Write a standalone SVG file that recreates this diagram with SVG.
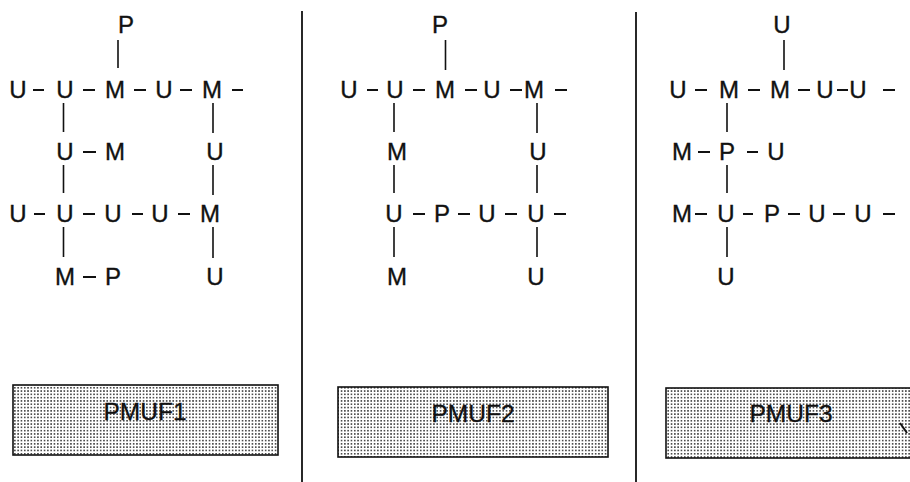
<svg xmlns="http://www.w3.org/2000/svg" width="910" height="482" viewBox="0 0 910 482">
  <defs>
    <pattern id="stipple" patternUnits="userSpaceOnUse" width="3.3" height="3.3">
      <rect width="3.3" height="3.3" fill="#ffffff"/>
      <rect x="0.9" y="0.9" width="1.5" height="1.5" fill="#2a2a2a"/>
    </pattern>
    <style>
      .a { font-family: "Liberation Sans", Arial, sans-serif; font-size: 24px; text-anchor: middle; fill: #111; stroke: #111; stroke-width: 0.35; }
      .lbl { font-family: "Liberation Sans", Arial, sans-serif; font-size: 24.5px; text-anchor: middle; fill: #111; stroke: #111; stroke-width: 0.3; }
      .bond { stroke: #111; stroke-width: 1.6; fill: none; }
      .dash { stroke: #111; stroke-width: 1.9; fill: none; }
      .rule { stroke: #111; stroke-width: 1.8; fill: none; }
      .box { fill: url(#stipple); stroke: #111; stroke-width: 1.6; }
    </style>
  </defs>
  <rect width="910" height="482" fill="#ffffff"/>

  <!-- panel dividers -->
  <g id="dividers">
    <line class="rule" x1="302" y1="11" x2="302" y2="482"/>
    <line class="rule" x1="636" y1="12" x2="636" y2="482"/>
  </g>

  <!-- bonds -->
  <g id="connectors">
    <!-- PMUF1 -->
    <path class="bond" d="M118 40V68 M63.5 103V132 M213 103V133 M63.5 165V193 M213 165V195 M63.5 227V257 M213 227V258"/>
    <path class="dash" d="M33 90H44 M83 90H95 M134 90H146 M180 90H192 M232 90H243
                          M83 152H96
                          M34 214H45 M83 214H95 M132 214H143 M178 214H190
                          M83 277H96"/>
    <!-- PMUF2 -->
    <path class="bond" d="M445.5 40V70 M394 103V132 M537 103V133 M394 165V193 M537 165V193 M394 227V257 M537 227V257"/>
    <path class="dash" d="M367 90H378 M413 90H425 M465 90H477 M510 90H522 M555 90H567
                          M413 214H425 M458 214H470 M505 214H517 M554 214H566"/>
    <!-- PMUF3 -->
    <path class="bond" d="M784 40V70 M727 103V132 M727 165V193 M727 227V257"/>
    <path class="dash" d="M695 90H707 M748 90H760 M798 90H810 M837 90H848 M883 90H895
                          M698 152H710 M747 152H758
                          M695 214H707 M743 214H753 M788 214H800 M833 214H845 M883 214H895"/>
  </g>

  <!-- PMUF1 structure -->
  <g id="pmuf1-atoms">
    <g id="n1-p-top"><text class="a" x="126" y="33">P</text></g>
    <g id="n1-r1-u1"><text class="a" x="18" y="98">U</text></g>
    <g id="n1-r1-u2"><text class="a" x="65" y="98">U</text></g>
    <g id="n1-r1-m1"><text class="a" x="115" y="98">M</text></g>
    <g id="n1-r1-u3"><text class="a" x="164" y="98">U</text></g>
    <g id="n1-r1-m2"><text class="a" x="212" y="98">M</text></g>
    <g id="n1-r2-u1"><text class="a" x="65" y="160">U</text></g>
    <g id="n1-r2-m1"><text class="a" x="115" y="160">M</text></g>
    <g id="n1-r2-u2"><text class="a" x="215" y="160">U</text></g>
    <g id="n1-r3-u1"><text class="a" x="18" y="222">U</text></g>
    <g id="n1-r3-u2"><text class="a" x="65" y="222">U</text></g>
    <g id="n1-r3-u3"><text class="a" x="113" y="222">U</text></g>
    <g id="n1-r3-u4"><text class="a" x="160" y="222">U</text></g>
    <g id="n1-r3-m1"><text class="a" x="210" y="222">M</text></g>
    <g id="n1-r4-m1"><text class="a" x="65" y="285">M</text></g>
    <g id="n1-r4-p1"><text class="a" x="113" y="285">P</text></g>
    <g id="n1-r4-u1"><text class="a" x="215" y="285">U</text></g>
  </g>

  <!-- PMUF2 structure -->
  <g id="pmuf2-atoms">
    <g id="n2-p-top"><text class="a" x="440" y="33">P</text></g>
    <g id="n2-r1-u1"><text class="a" x="349" y="98">U</text></g>
    <g id="n2-r1-u2"><text class="a" x="395" y="98">U</text></g>
    <g id="n2-r1-m1"><text class="a" x="445" y="98">M</text></g>
    <g id="n2-r1-u3"><text class="a" x="492" y="98">U</text></g>
    <g id="n2-r1-m2"><text class="a" x="534" y="98">M</text></g>
    <g id="n2-r2-m1"><text class="a" x="397" y="160">M</text></g>
    <g id="n2-r2-u1"><text class="a" x="538" y="160">U</text></g>
    <g id="n2-r3-u1"><text class="a" x="394" y="222">U</text></g>
    <g id="n2-r3-p1"><text class="a" x="442" y="222">P</text></g>
    <g id="n2-r3-u2"><text class="a" x="487" y="222">U</text></g>
    <g id="n2-r3-u3"><text class="a" x="536" y="222">U</text></g>
    <g id="n2-r4-m1"><text class="a" x="397" y="285">M</text></g>
    <g id="n2-r4-u1"><text class="a" x="536" y="285">U</text></g>
  </g>

  <!-- PMUF3 structure -->
  <g id="pmuf3-atoms">
    <g id="n3-u-top"><text class="a" x="782" y="33">U</text></g>
    <g id="n3-r1-u1"><text class="a" x="678" y="98">U</text></g>
    <g id="n3-r1-m1"><text class="a" x="729" y="98">M</text></g>
    <g id="n3-r1-m2"><text class="a" x="780" y="98">M</text></g>
    <g id="n3-r1-u2"><text class="a" x="825" y="98">U</text></g>
    <g id="n3-r1-u3"><text class="a" x="858" y="98">U</text></g>
    <g id="n3-r2-m1"><text class="a" x="682" y="160">M</text></g>
    <g id="n3-r2-p1"><text class="a" x="727" y="160">P</text></g>
    <g id="n3-r2-u1"><text class="a" x="776" y="160">U</text></g>
    <g id="n3-r3-m1"><text class="a" x="682" y="222">M</text></g>
    <g id="n3-r3-u1"><text class="a" x="726" y="222">U</text></g>
    <g id="n3-r3-p1"><text class="a" x="772" y="222">P</text></g>
    <g id="n3-r3-u2"><text class="a" x="817" y="222">U</text></g>
    <g id="n3-r3-u3"><text class="a" x="863" y="222">U</text></g>
    <g id="n3-r4-u1"><text class="a" x="726" y="285">U</text></g>
  </g>

  <!-- name plates -->
  <g id="label-pmuf1">
    <rect class="box" x="13" y="385" width="265" height="70"/>
    <text class="lbl" x="145" y="420">PMUF1</text>
  </g>
  <g id="label-pmuf2">
    <rect class="box" x="338" y="387" width="270" height="70"/>
    <text class="lbl" x="473" y="421.5">PMUF2</text>
  </g>
  <g id="label-pmuf3">
    <rect class="box" x="666" y="388" width="270" height="70"/>
    <text class="lbl" x="791" y="422">PMUF3</text>
    <line x1="900" y1="423" x2="907" y2="433" stroke="#111" stroke-width="2"/>
  </g>
</svg>
